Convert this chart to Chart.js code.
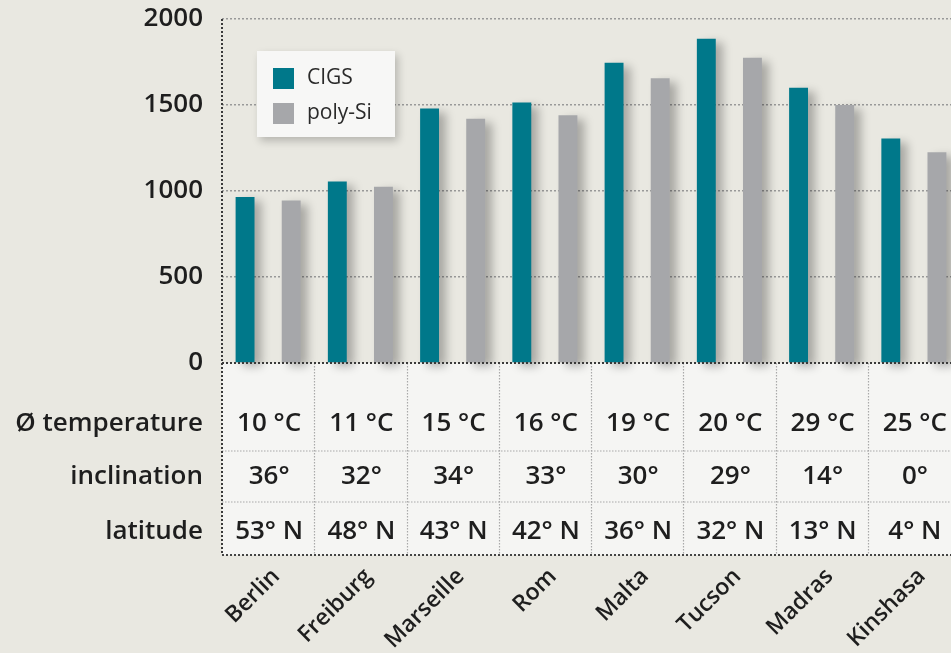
<!DOCTYPE html>
<html>
<head>
<meta charset="utf-8">
<script src="https://cdn.jsdelivr.net/npm/chart.js@4"></script>
<style>
  html, body { margin: 0; padding: 0; background: #e9e8e1; overflow: hidden; }
  #chart { display: block; }
</style>
</head>
<body>
<canvas id="chart" width="972" height="653"></canvas>
<script>
// data
const cities = ['Berlin', 'Freiburg', 'Marseille', 'Rom', 'Malta', 'Tucson', 'Madras', 'Kinshasa'];
const cigs = [965, 1055, 1480, 1515, 1745, 1885, 1600, 1305];
const polySi = [945, 1025, 1420, 1440, 1655, 1775, 1500, 1225];
const temperature = ['10 °C', '11 °C', '15 °C', '16 °C', '19 °C', '20 °C', '29 °C', '25 °C'];
const inclination = ['36°', '32°', '34°', '33°', '30°', '29°', '14°', '0°'];
const latitude = ['53° N', '48° N', '43° N', '42° N', '36° N', '32° N', '13° N', '4° N'];
const rowLabels = ['Ø temperature', 'inclination', 'latitude'];
const yTicks = [0, 500, 1000, 1500, 2000];

const teal = '#00788a';
const grey = '#a6a7aa';
const fontFamily = '"Open Sans", Roboto, sans-serif';

// table under the x axis + legend + axis lines
const tablePlugin = {
    id: 'tablePlugin',
    beforeDraw(chart) {
        const ctx = chart.ctx;
        const x = chart.scales.x;
        const area = chart.chartArea;
        const top = area.bottom;
        const rowSep = [top + 88, top + 139];
        const bottom = top + 192;
        const rowMid = [top + 61, top + 114, top + 169];
        const rows = [temperature, inclination, latitude];
        const half = (x.getPixelForValue(1) - x.getPixelForValue(0)) / 2;

        ctx.save();
        ctx.fillStyle = '#f5f5f3';
        ctx.fillRect(area.left, top, x.right - area.left + 20, bottom - top);

        // inner lines
        ctx.strokeStyle = '#a9a9a9';
        ctx.lineWidth = 1.2;
        ctx.setLineDash([1.5, 1.5]);
        rowSep.forEach(yy => {
            ctx.beginPath();
            ctx.moveTo(area.left, yy);
            ctx.lineTo(x.right + 20, yy);
            ctx.stroke();
        });
        cities.forEach((c, i) => {
            if (i === 0) return;
            const xx = Math.round(x.getPixelForValue(i) - half) + 0.5;
            ctx.beginPath();
            ctx.moveTo(xx, top);
            ctx.lineTo(xx, bottom);
            ctx.stroke();
        });

        // outer dark line at the bottom
        ctx.strokeStyle = '#444';
        ctx.lineWidth = 2;
        ctx.setLineDash([2, 2]);
        ctx.beginPath();
        ctx.moveTo(area.left, bottom);
        ctx.lineTo(x.right + 20, bottom);
        ctx.stroke();

        // values
        ctx.setLineDash([]);
        ctx.fillStyle = '#1e1e1e';
        ctx.font = '600 26px ' + fontFamily;
        ctx.textBaseline = 'middle';
        ctx.textAlign = 'center';
        rows.forEach((vals, r) => {
            vals.forEach((v, i) => {
                ctx.fillText(v, x.getPixelForValue(i) + 1, rowMid[r]);
            });
        });
        ctx.textAlign = 'right';
        rowLabels.forEach((lbl, r) => {
            ctx.fillText(lbl, area.left - 19, rowMid[r]);
        });
        ctx.restore();
    },
    beforeDatasetsDraw(chart) {
        const ctx = chart.ctx;
        ctx.save();
        ctx.shadowColor = 'rgba(0,0,0,0.28)';
        ctx.shadowBlur = 10;
        ctx.shadowOffsetX = 7;
        ctx.shadowOffsetY = 4;
    },
    afterDatasetsDraw(chart) {
        const ctx = chart.ctx;
        ctx.restore();
        const area = chart.chartArea;
        const x = chart.scales.x;

        // y axis line and zero line, dark dotted
        ctx.save();
        ctx.strokeStyle = '#3a3a3a';
        ctx.lineWidth = 2;
        ctx.setLineDash([2, 2]);
        ctx.beginPath();
        ctx.moveTo(area.left, area.top);
        ctx.lineTo(area.left, area.bottom + 192);
        ctx.moveTo(area.left, area.bottom);
        ctx.lineTo(x.right + 20, area.bottom);
        ctx.stroke();

        // legend box
        const lx = area.left + 35, ly = area.top + 32;
        ctx.setLineDash([]);
        ctx.shadowColor = 'rgba(0,0,0,0.22)';
        ctx.shadowBlur = 8;
        ctx.shadowOffsetX = 3;
        ctx.shadowOffsetY = 4;
        ctx.fillStyle = '#f7f7f6';
        ctx.fillRect(lx, ly, 138, 86);
        ctx.shadowColor = 'transparent';
        ctx.font = '500 21px ' + fontFamily;
        ctx.textAlign = 'left';
        ctx.textBaseline = 'middle';
        chart.data.datasets.forEach((ds, i) => {
            const yy = ly + 27 + i * 35;
            ctx.fillStyle = ds.backgroundColor;
            ctx.fillRect(lx + 16, yy - 10, 21, 21);
            ctx.fillStyle = '#2a2a2a';
            ctx.fillText(ds.label, lx + 50, yy);
        });
        ctx.restore();
    }
};

new Chart(document.getElementById('chart'), {
    type: 'bar',
    data: {
        labels: cities,
        datasets: [
            { label: 'CIGS', data: cigs, backgroundColor: teal, clip: false },
            { label: 'poly-Si', data: polySi, backgroundColor: grey, clip: false }
        ]
    },
    options: {
        responsive: false,
        animation: false,
        devicePixelRatio: 1,
        layout: { padding: { top: 19, right: 12, left: 0, bottom: 0 } },
        datasets: {
            bar: { categoryPercentage: 1.0, barPercentage: 0.41 }
        },
        plugins: {
            legend: { display: false },
            tooltip: { enabled: false }
        },
        scales: {
            x: {
                grid: { display: false },
                border: { display: false },
                ticks: {
                    minRotation: 45,
                    maxRotation: 45,
                    padding: 192,
                    labelOffset: 8,
                    color: '#1e1e1e',
                    font: { family: fontFamily, size: 23, weight: '600' }
                },
                afterFit(scale) {
                    scale.height = 290;
                    scale.paddingLeft = 0;
                    scale.paddingRight = 0;
                }
            },
            y: {
                min: 0,
                max: 2000,
                afterBuildTicks(scale) { scale.ticks = yTicks.map(v => ({ value: v })); },
                grid: {
                    color: ctx => ctx.tick && ctx.tick.value === 0 ? 'rgba(0,0,0,0)' : '#999',
                    lineWidth: 1.5,
                    drawTicks: false
                },
                border: { display: false, dash: [2, 2] },
                ticks: {
                    padding: 19,
                    color: '#1e1e1e',
                    font: { family: fontFamily, size: 26, weight: '600' },
                    callback: v => String(v)
                },
                afterFit(scale) {
                    scale.width = 222;
                    scale.paddingTop = 0;
                    scale.paddingBottom = 0;
                }
            }
        }
    },
    plugins: [tablePlugin]
});
</script>
</body>
</html>
